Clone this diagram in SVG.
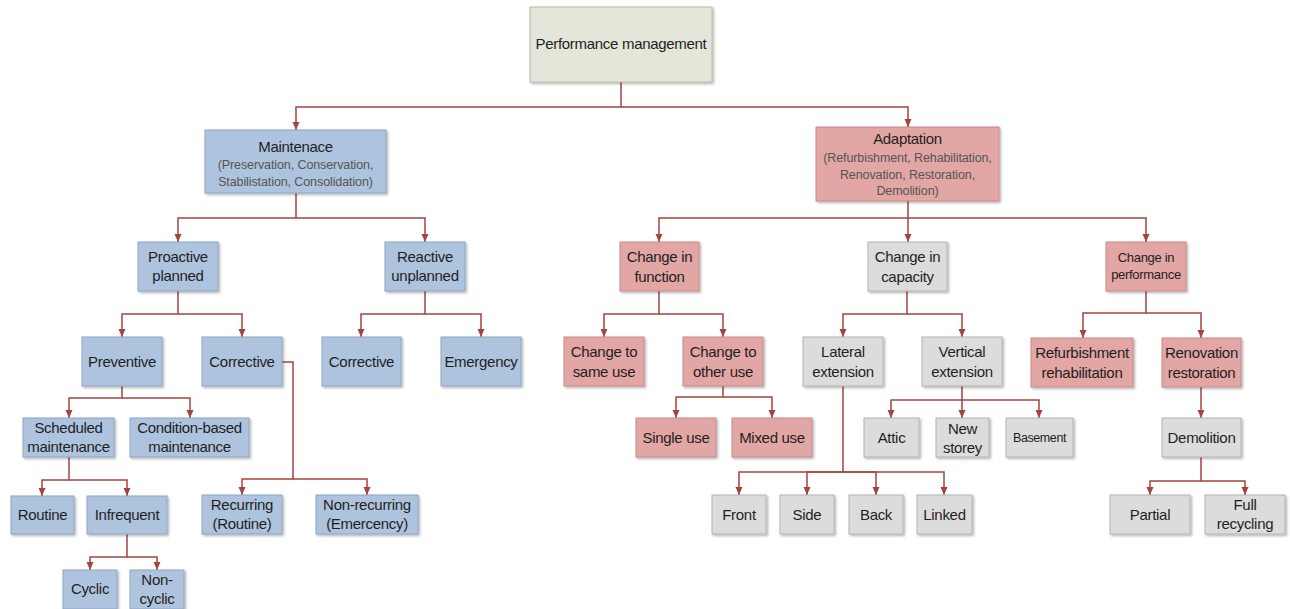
<svg xmlns="http://www.w3.org/2000/svg" width="1290" height="609" viewBox="0 0 1290 609">
<defs>
<style>
rect{stroke-width:1;filter:url(#sh)}
.b{fill:#aec3de;stroke:#8fa5c2}
.p{fill:#e2a6a4;stroke:#c68b89}
.g{fill:#dcdcdc;stroke:#b3b3b3}
.t{fill:#e3e6d8;stroke:#b8bba9}
text{font-family:"Liberation Sans",Arial,sans-serif;font-size:15px;fill:#1f1f1f;text-anchor:middle;letter-spacing:-0.3px}
.s{font-size:12.5px;fill:#555;letter-spacing:-0.1px}
.m{font-size:13px}
.c path{fill:none;stroke:#a5443d;stroke-width:1.5;marker-end:url(#ah)}
</style>
<filter id="sh" x="-10%" y="-10%" width="130%" height="140%">
<feDropShadow dx="1.5" dy="1.5" stdDeviation="1" flood-color="#000" flood-opacity="0.3"/>
</filter>
<marker id="ah" viewBox="0 0 8 8" refX="8" refY="4" markerWidth="8" markerHeight="8" markerUnits="userSpaceOnUse" orient="auto">
<path d="M0 0.5 L8 4 L0 7.5 z" fill="#a5443d"/>
</marker>
</defs>
<rect width="1290" height="609" fill="#fff" style="filter:none"/>
<g class="c" id="connectors">
<path d="M621 82 V107 H296 V130"/>
<path d="M621 107 H908 V127"/>
<path d="M296 193 V218 H178 V242"/>
<path d="M296 218 H425 V242"/>
<path d="M908 201 V218 H659 V242"/>
<path d="M908 218 V242"/>
<path d="M908 218 H1146 V242"/>
<path d="M178 291 V314 H122 V337"/>
<path d="M178 314 H242 V337"/>
<path d="M425 291 V314 H361 V337"/>
<path d="M425 314 H481 V337"/>
<path d="M122 386 V398 H69 V418"/>
<path d="M122 398 H190 V418"/>
<path d="M282 362 H293 V479 H242 V495"/>
<path d="M293 479 H367 V495"/>
<path d="M69 457 V480 H42 V496"/>
<path d="M69 480 H127 V496"/>
<path d="M127 534 V557 H90 V570"/>
<path d="M127 557 H157 V570"/>
<path d="M659 291 V314 H604 V337"/>
<path d="M659 314 H723 V337"/>
<path d="M723 386 V397 H676 V418"/>
<path d="M723 397 H772 V418"/>
<path d="M907 291 V314 H843 V337"/>
<path d="M907 314 H962 V337"/>
<path d="M843 386 V472 H739 V495"/>
<path d="M843 472 H807 V495"/>
<path d="M843 472 H876 V495"/>
<path d="M843 472 H944 V495"/>
<path d="M962 386 V400 H891 V418"/>
<path d="M962 400 V418"/>
<path d="M962 400 H1039 V418"/>
<path d="M1146 291 V313 H1083 V338"/>
<path d="M1146 313 H1201 V338"/>
<path d="M1201 387 V418"/>
<path d="M1201 457 V481 H1150 V495"/>
<path d="M1201 481 H1245 V495"/>
</g>
<g id="perf"><rect class="t" x="530" y="7" width="182" height="75"/><text x="621" y="49">Performance management</text></g>
<g id="maint"><rect class="b" x="205" y="130" width="181" height="63"/><text x="295.5" y="152">Maintenace</text><text class="s" x="295.5" y="168.5">(Preservation, Conservation,</text><text class="s" x="295.5" y="185.5">Stabilistation, Consolidation)</text></g>
<g id="adapt"><rect class="p" x="816" y="127" width="183" height="74"/><text x="907.5" y="144">Adaptation</text><text class="s" x="907.5" y="161.5">(Refurbishment, Rehabilitation,</text><text class="s" x="907.5" y="178.5">Renovation, Restoration,</text><text class="s" x="907.5" y="195">Demolition)</text></g>
<g id="proactive"><rect class="b" x="138" y="242" width="80" height="49"/><text x="178" y="262">Proactive</text><text x="178" y="281">planned</text></g>
<g id="reactive"><rect class="b" x="385" y="242" width="80" height="49"/><text x="425" y="262">Reactive</text><text x="425" y="281">unplanned</text></g>
<g id="preventive"><rect class="b" x="82" y="337" width="80" height="49"/><text x="122" y="367">Preventive</text></g>
<g id="corrective1"><rect class="b" x="202" y="337" width="80" height="49"/><text x="242" y="367">Corrective</text></g>
<g id="corrective2"><rect class="b" x="322" y="337" width="79" height="49"/><text x="361.5" y="367">Corrective</text></g>
<g id="emergency"><rect class="b" x="441" y="337" width="80" height="49"/><text x="481" y="367">Emergency</text></g>
<g id="scheduled"><rect class="b" x="23" y="418" width="91" height="39"/><text x="68.5" y="433">Scheduled</text><text x="68.5" y="452">maintenance</text></g>
<g id="condition"><rect class="b" x="130" y="418" width="119" height="39"/><text x="189.5" y="433">Condition-based</text><text x="189.5" y="452">maintenance</text></g>
<g id="routine"><rect class="b" x="11" y="496" width="63" height="38"/><text x="42.5" y="520">Routine</text></g>
<g id="infrequent"><rect class="b" x="87" y="496" width="80" height="38"/><text x="127" y="520">Infrequent</text></g>
<g id="cyclic"><rect class="b" x="63" y="570" width="54" height="39"/><text x="90" y="594">Cyclic</text></g>
<g id="noncyclic"><rect class="b" x="130" y="570" width="54" height="39"/><text x="157" y="585">Non-</text><text x="157" y="604">cyclic</text></g>
<g id="recurring"><rect class="b" x="202" y="495" width="80" height="39"/><text x="242" y="510">Recurring</text><text x="242" y="529">(Routine)</text></g>
<g id="nonrecurring"><rect class="b" x="316" y="495" width="102" height="39"/><text x="367" y="510">Non-recurring</text><text x="367" y="529">(Emercency)</text></g>
<g id="cfunction"><rect class="p" x="620" y="242" width="79" height="49"/><text x="659.5" y="262">Change in</text><text x="659.5" y="282">function</text></g>
<g id="ccapacity"><rect class="g" x="868" y="242" width="79" height="49"/><text x="907.5" y="262">Change in</text><text x="907.5" y="282">capacity</text></g>
<g id="cperformance"><rect class="p" x="1106" y="242" width="80" height="49"/><text class="m" x="1146" y="262">Change in</text><text class="m" x="1146" y="279">performance</text></g>
<g id="sameuse"><rect class="p" x="564" y="337" width="80" height="49"/><text x="604" y="357">Change to</text><text x="604" y="377">same use</text></g>
<g id="otheruse"><rect class="p" x="683" y="337" width="80" height="49"/><text x="723" y="357">Change to</text><text x="723" y="377">other use</text></g>
<g id="singleuse"><rect class="p" x="636" y="418" width="80" height="39"/><text x="676" y="443">Single use</text></g>
<g id="mixeduse"><rect class="p" x="732" y="418" width="80" height="39"/><text x="772" y="443">Mixed use</text></g>
<g id="lateral"><rect class="g" x="803" y="337" width="80" height="49"/><text x="843" y="357">Lateral</text><text x="843" y="377">extension</text></g>
<g id="vertical"><rect class="g" x="922" y="337" width="80" height="49"/><text x="962" y="357">Vertical</text><text x="962" y="377">extension</text></g>
<g id="attic"><rect class="g" x="864" y="418" width="55" height="39"/><text x="891.5" y="443">Attic</text></g>
<g id="newstorey"><rect class="g" x="936" y="418" width="53" height="39"/><text x="962.5" y="434">New</text><text x="962.5" y="453">storey</text></g>
<g id="basement"><rect class="g" x="1006" y="418" width="67" height="39"/><text style="font-size:12.5px;letter-spacing:-0.4px" x="1039.5" y="442">Basement</text></g>
<g id="refurb"><rect class="p" x="1031" y="338" width="102" height="49"/><text x="1082" y="358">Refurbishment</text><text x="1082" y="378">rehabilitation</text></g>
<g id="renov"><rect class="p" x="1162" y="338" width="79" height="49"/><text x="1201.5" y="358">Renovation</text><text x="1201.5" y="378">restoration</text></g>
<g id="demolition"><rect class="g" x="1162" y="418" width="79" height="39"/><text x="1201.5" y="443">Demolition</text></g>
<g id="front"><rect class="g" x="712" y="495" width="54" height="39"/><text x="739" y="520">Front</text></g>
<g id="side"><rect class="g" x="780" y="495" width="54" height="39"/><text x="807" y="520">Side</text></g>
<g id="back"><rect class="g" x="849" y="495" width="54" height="39"/><text x="876" y="520">Back</text></g>
<g id="linked"><rect class="g" x="917" y="495" width="55" height="39"/><text x="944.5" y="520">Linked</text></g>
<g id="partial"><rect class="g" x="1110" y="495" width="80" height="39"/><text x="1150" y="520">Partial</text></g>
<g id="fullrecycling"><rect class="g" x="1205" y="495" width="80" height="39"/><text x="1245" y="510">Full</text><text x="1245" y="529">recycling</text></g>
</svg>
